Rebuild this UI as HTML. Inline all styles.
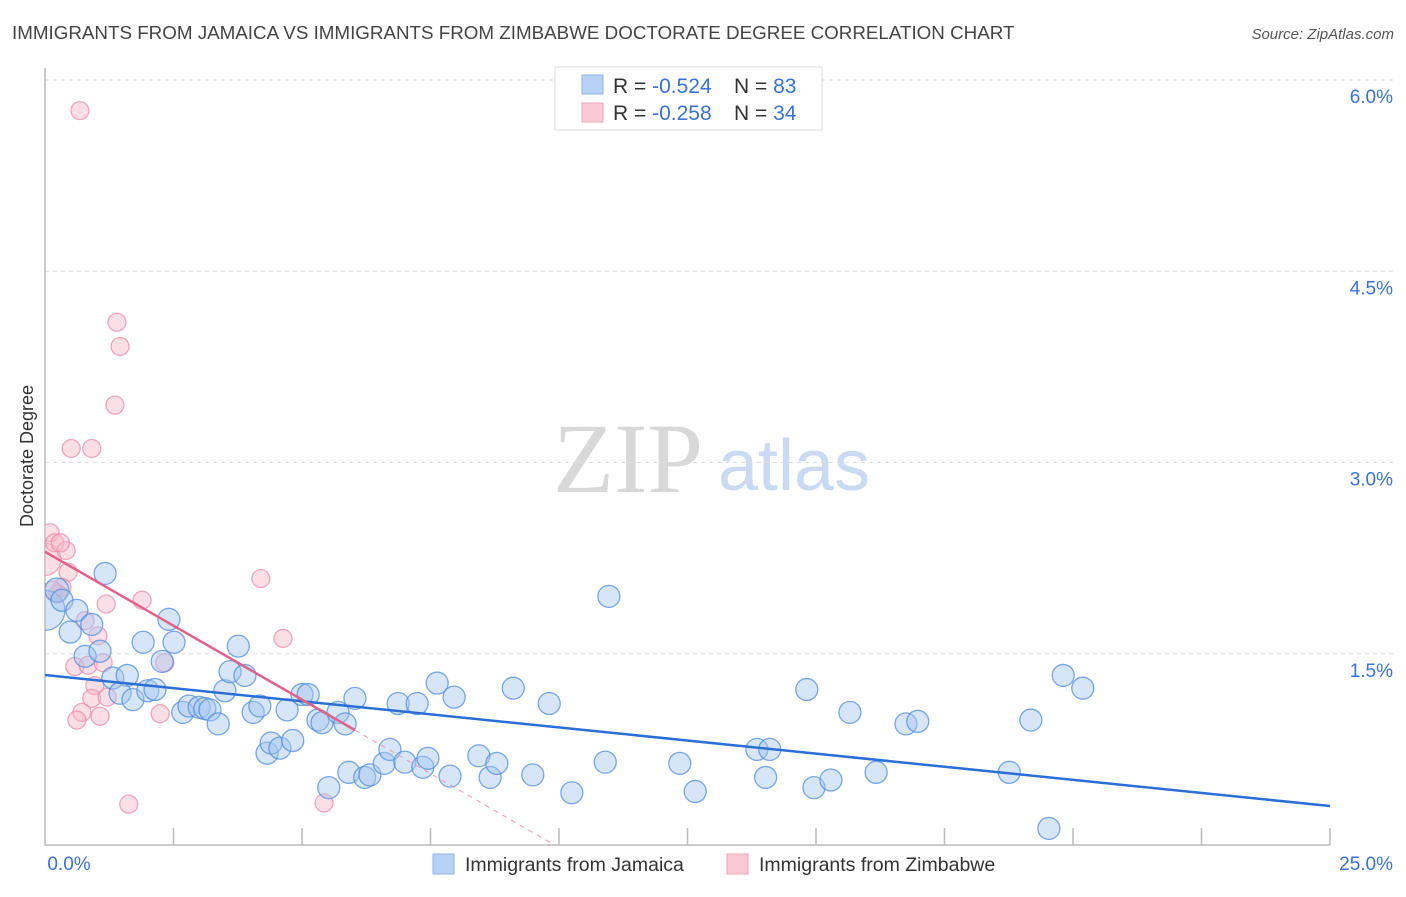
<!DOCTYPE html>
<html><head><meta charset="utf-8"><style>
body{margin:0;background:#fff;font-family:"Liberation Sans",sans-serif;}
</style></head><body>
<svg id="chart" width="1406" height="892" viewBox="0 0 1406 892" xmlns="http://www.w3.org/2000/svg" font-family="Liberation Sans, sans-serif">
<defs><clipPath id="plotclip"><rect x="45" y="60" width="1360" height="785"/></clipPath></defs>
<text x="12" y="39" font-size="18.8" fill="#444">IMMIGRANTS FROM JAMAICA VS IMMIGRANTS FROM ZIMBABWE DOCTORATE DEGREE CORRELATION CHART</text>
<text x="1394" y="39" font-size="15" fill="#555" text-anchor="end" font-style="italic">Source: ZipAtlas.com</text>
<g>
<text x="553" y="492" font-size="100" fill="#d8d8d8" style="font-family:'Liberation Serif',serif">ZIP</text>
<text x="718" y="490" font-size="72" fill="#c9daf2">atlas</text>
</g>
<g id="grid"></g>
<g id="axes"></g>
<g id="pts" clip-path="url(#plotclip)"></g>
<g id="trends"></g>
<text transform="translate(33,456) rotate(-90)" font-size="18" fill="#333" text-anchor="middle">Doctorate Degree</text>
<g>
<rect x="555" y="67" width="267" height="63" fill="#fff" stroke="#ddd"/>
<rect x="582" y="75" width="21" height="19" fill="#b8d2f5" stroke="#8fb3e8"/>
<rect x="582" y="103" width="21" height="19" fill="#fbc8d6" stroke="#efa3ba"/>
<text x="613" y="93" font-size="21" fill="#333">R = <tspan fill="#3a72d8">-0.524</tspan></text>
<text x="734" y="93" font-size="21" fill="#333">N = <tspan fill="#3a72d8">83</tspan></text>
<text x="613" y="120" font-size="21" fill="#333">R = <tspan fill="#3a72d8">-0.258</tspan></text>
<text x="734" y="120" font-size="21" fill="#333">N = <tspan fill="#3a72d8">34</tspan></text>
</g>
<g>
<rect x="433" y="854" width="21" height="20" fill="#b8d2f5" stroke="#8fb3e8"/>
<text x="465" y="871" font-size="19.5" fill="#333">Immigrants from Jamaica</text>
<rect x="727" y="854" width="21" height="20" fill="#fbc8d6" stroke="#efa3ba"/>
<text x="759" y="871" font-size="19.5" fill="#333">Immigrants from Zimbabwe</text>
</g>
</svg>
<script>
const yTicks=[1.5,3.0,4.5,6.0];
const yTickLabels=["1.5%","3.0%","4.5%","6.0%"];
const xTickLabels=["0.0%","25.0%"];
const jamX=[0.0,0.23,0.33,0.62,0.49,0.91,1.17,0.78,1.07,1.32,1.6,1.46,1.71,1.91,2.0,2.14,2.28,2.41,2.51,2.68,2.8,3.0,3.11,3.21,3.37,3.5,3.6,3.76,3.89,4.05,4.18,4.32,4.4,4.57,4.71,4.82,5.0,5.12,5.31,5.39,5.52,5.7,5.84,5.91,6.03,6.22,6.32,6.6,6.71,6.87,7.0,7.24,7.35,7.45,7.63,7.88,7.96,8.44,8.66,8.79,9.11,9.49,9.81,10.25,10.97,10.9,12.35,12.65,13.85,14.1,14.02,14.82,14.96,15.29,15.66,16.17,16.75,16.98,18.76,19.18,19.53,19.81,20.19];
const jamY=[1.84,2.0,1.92,1.84,1.67,1.73,2.13,1.48,1.52,1.31,1.33,1.19,1.14,1.59,1.21,1.22,1.44,1.77,1.59,1.04,1.09,1.08,1.07,1.06,0.95,1.21,1.36,1.56,1.33,1.04,1.09,0.72,0.8,0.76,1.06,0.82,1.18,1.18,0.98,0.96,0.45,1.04,0.95,0.57,1.15,0.53,0.55,0.64,0.75,1.11,0.65,1.11,0.61,0.68,1.27,0.54,1.16,0.7,0.53,0.64,1.23,0.55,1.11,0.41,1.95,0.65,0.64,0.42,0.75,0.75,0.53,1.22,0.45,0.51,1.04,0.57,0.95,0.97,0.57,0.98,0.13,1.33,1.23];
const jamR=[20,12,11,11,11,11,11,11,11,11,11,11,11,11,11,11,11,11,11,11,11,11,11,11,11,11,11,11,11,11,11,11,11,11,11,11,11,11,11,11,11,11,11,11,11,11,11,11,11,11,11,11,11,11,11,11,11,11,11,11,11,11,11,11,11,11,11,11,11,11,11,11,11,11,11,11,11,11,11,11,11,11,11];
const zimX=[0.68,1.4,1.46,1.36,0.51,0.91,0.1,0.0,0.19,0.41,0.45,0.33,0.25,1.19,1.89,4.2,0.78,1.03,4.63,0.58,0.84,1.13,2.33,0.97,0.91,1.21,0.72,0.62,1.07,2.24,1.63,5.43,0.3,0.15];
const zimY=[5.76,4.1,3.91,3.45,3.11,3.11,2.45,2.24,2.37,2.31,2.14,2.02,1.97,1.89,1.92,2.09,1.76,1.64,1.62,1.4,1.41,1.43,1.43,1.25,1.15,1.16,1.04,0.98,1.01,1.03,0.32,0.33,2.37,2.0];
const zimR=[9,9,9,9,9,9,9,16,9,9,9,9,9,9,9,9,9,9,9,9,9,9,9,9,9,9,9,9,9,9,9,9,9,9];
const jamTrend=[1.333,-0.0411];
const zimTrend=[2.30,-0.232];
const zimSolidEnd=6.03;

const NS="http://www.w3.org/2000/svg";
const X0=45,X1=1330,Y0=845,PPY=127.5;
const sx=v=>X0+v/25*(X1-X0);
const sy=v=>Y0-v*PPY;
function mk(tag,attrs,parent){const e=document.createElementNS(NS,tag);for(const k in attrs)e.setAttribute(k,attrs[k]);document.getElementById(parent).appendChild(e);return e;}

yTicks.forEach((t,i)=>{
  const g=mk('line',{x1:X0,x2:1394,y1:sy(t),y2:sy(t),stroke:'#ddd','stroke-dasharray':'4,4'},'grid');
  
  
  const l=mk('text',{x:1393,y:sy(t)+23,'font-size':19,fill:'#3a72d8','text-anchor':'end'},'axes');
  l.textContent=yTickLabels[i];
  
  
});
const ax=mk('path',{d:`M${X0} 68 V${Y0} H${X1}`,stroke:'#bbb',fill:'none','stroke-width':1.5},'axes');


for(let i=1;i<=10;i++){
  const t=mk('line',{x1:sx(i*2.5),x2:sx(i*2.5),y1:Y0-17,y2:Y0,stroke:'#bbb','stroke-width':1.5},'axes');
  
  
}
[[X0+24,0],[1393,1]].forEach(([x,i])=>{
  const l=mk('text',{x:x,y:870,'font-size':19,fill:'#3a72d8','text-anchor':i?'end':'middle'},'axes');
  l.textContent=xTickLabels[i];
  
  
});
zimX.forEach((v,i)=>{
  const c=mk('circle',{cx:sx(v),cy:sy(zimY[i]),r:zimR[i],fill:'rgba(248,182,202,0.45)',stroke:'rgba(232,140,170,0.75)','stroke-width':1.3},'pts');
  
  
});
jamX.forEach((v,i)=>{
  const c=mk('circle',{cx:sx(v),cy:sy(jamY[i]),r:jamR[i],fill:'rgba(165,198,240,0.45)',stroke:'rgba(80,140,220,0.75)','stroke-width':1.3},'pts');
  
  
});
const bt=mk('line',{x1:sx(0),y1:sy(jamTrend[0]),x2:sx(25),y2:sy(jamTrend[0]+25*jamTrend[1]),stroke:'#2a6fd6','stroke-width':2.5},'trends');


const pe=zimSolidEnd, pz=-zimTrend[0]/zimTrend[1];
const pt=mk('line',{x1:sx(0),y1:sy(zimTrend[0]),x2:sx(pe),y2:sy(zimTrend[0]+pe*zimTrend[1]),stroke:'#e0628a','stroke-width':2.5},'trends');


const pd=mk('line',{x1:sx(pe),y1:sy(zimTrend[0]+pe*zimTrend[1]),x2:sx(pz),y2:sy(0),stroke:'#e89ab2','stroke-width':1,'stroke-dasharray':'5,5'},'trends');


</script>
</body></html>
